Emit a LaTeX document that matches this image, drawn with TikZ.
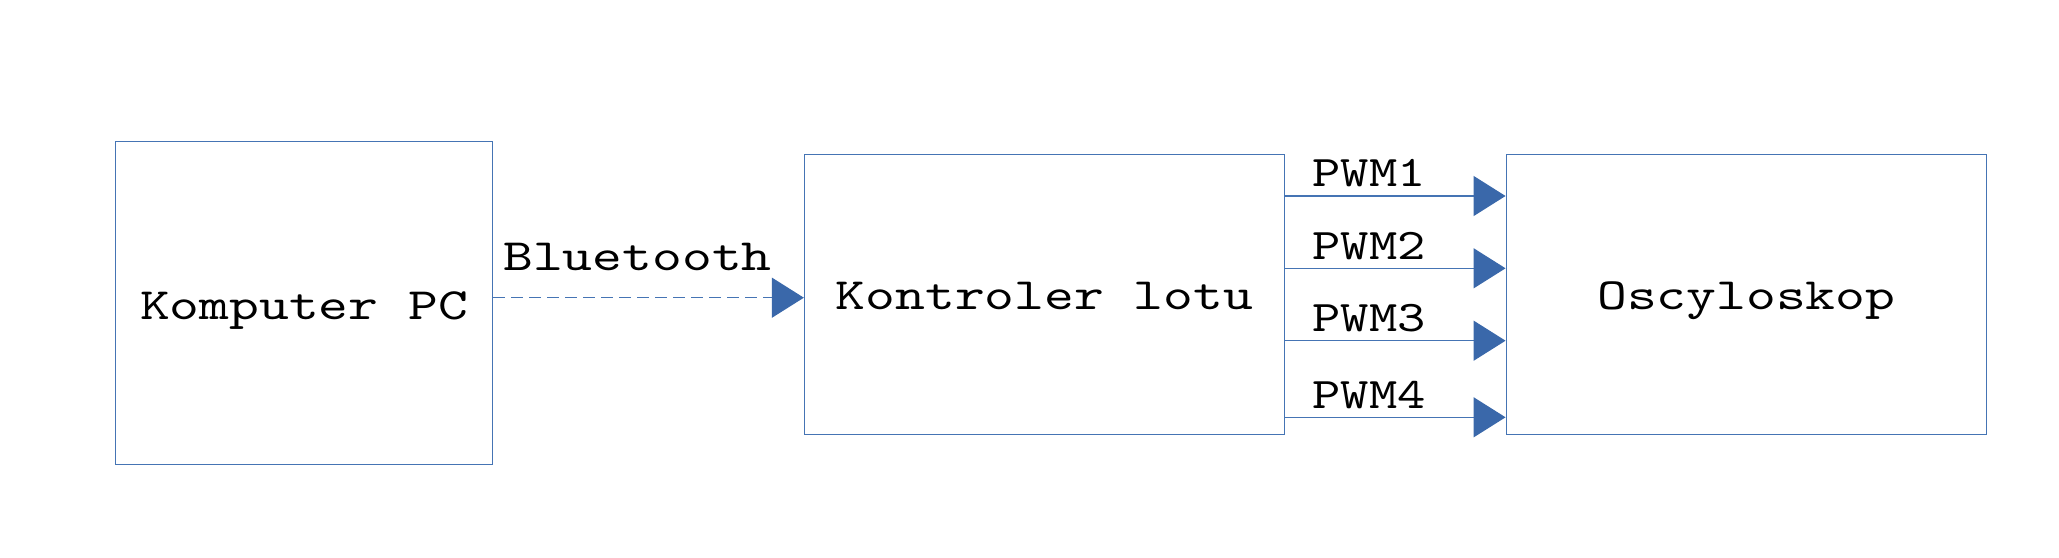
\documentclass[tikz,border=0pt]{standalone}
\usepackage{fontspec}
\newfontfamily\courA{lmmono10-regular.otf}[FakeStretch=1.27]
\newfontfamily\courB{lmmono10-regular.otf}[FakeStretch=1.233]
\usetikzlibrary{arrows.meta}
\definecolor{boxblue}{HTML}{4574B4}
\definecolor{tipblue}{HTML}{3A68AA}
\begin{document}
\begin{tikzpicture}[x=1pt,y=-1pt,
  blk/.style={draw=boxblue,line width=1.3pt,inner sep=0pt,
    text height=31.4pt,text depth=0pt,
    font=\courA\fontsize{44.7}{52}\selectfont},
  conn/.style={draw=boxblue,line width=1.3pt,
    -{Triangle[length=32pt,width=40pt,fill=tipblue,color=tipblue]}},
  lbl/.style={inner sep=0pt,anchor=base,font=\courB\fontsize{43.7}{50}\selectfont},
  mlbl/.style={inner sep=0pt,anchor=base,font=\courA\fontsize{44.7}{52}\selectfont}]
\useasboundingbox (0,0) rectangle (2059,557);
\node[blk,minimum width=377pt,minimum height=323pt] (pc) at (304,303.3) {Komputer PC};
\node[blk,minimum width=480pt,minimum height=280pt] (k) at (1044.5,294.2) {Kontroler lotu};
\node[blk,minimum width=480pt,minimum height=280pt] (o) at (1746.2,294.2) {Oscyloskop};
\draw[conn,dash pattern=on 12pt off 6pt] (pc.east |- 0,297.7) -- (k.west |- 0,297.7);
\node[mlbl] (bt) at (637.5,270) {Bluetooth};
\draw[conn] (k.east |- 0,196) -- (o.west |- 0,196);
\draw[conn] (k.east |- 0,268.3) -- (o.west |- 0,268.3);
\draw[conn] (k.east |- 0,340.7) -- (o.west |- 0,340.7);
\draw[conn] (k.east |- 0,417.3) -- (o.west |- 0,417.3);
\node[lbl] (p1) at (1369,186.7) {PWM1};
\node[lbl] (p2) at (1369,259.3) {PWM2};
\node[lbl] (p3) at (1369,331.7) {PWM3};
\node[lbl] (p4) at (1369,408.3) {PWM4};
\end{tikzpicture}
\end{document}
